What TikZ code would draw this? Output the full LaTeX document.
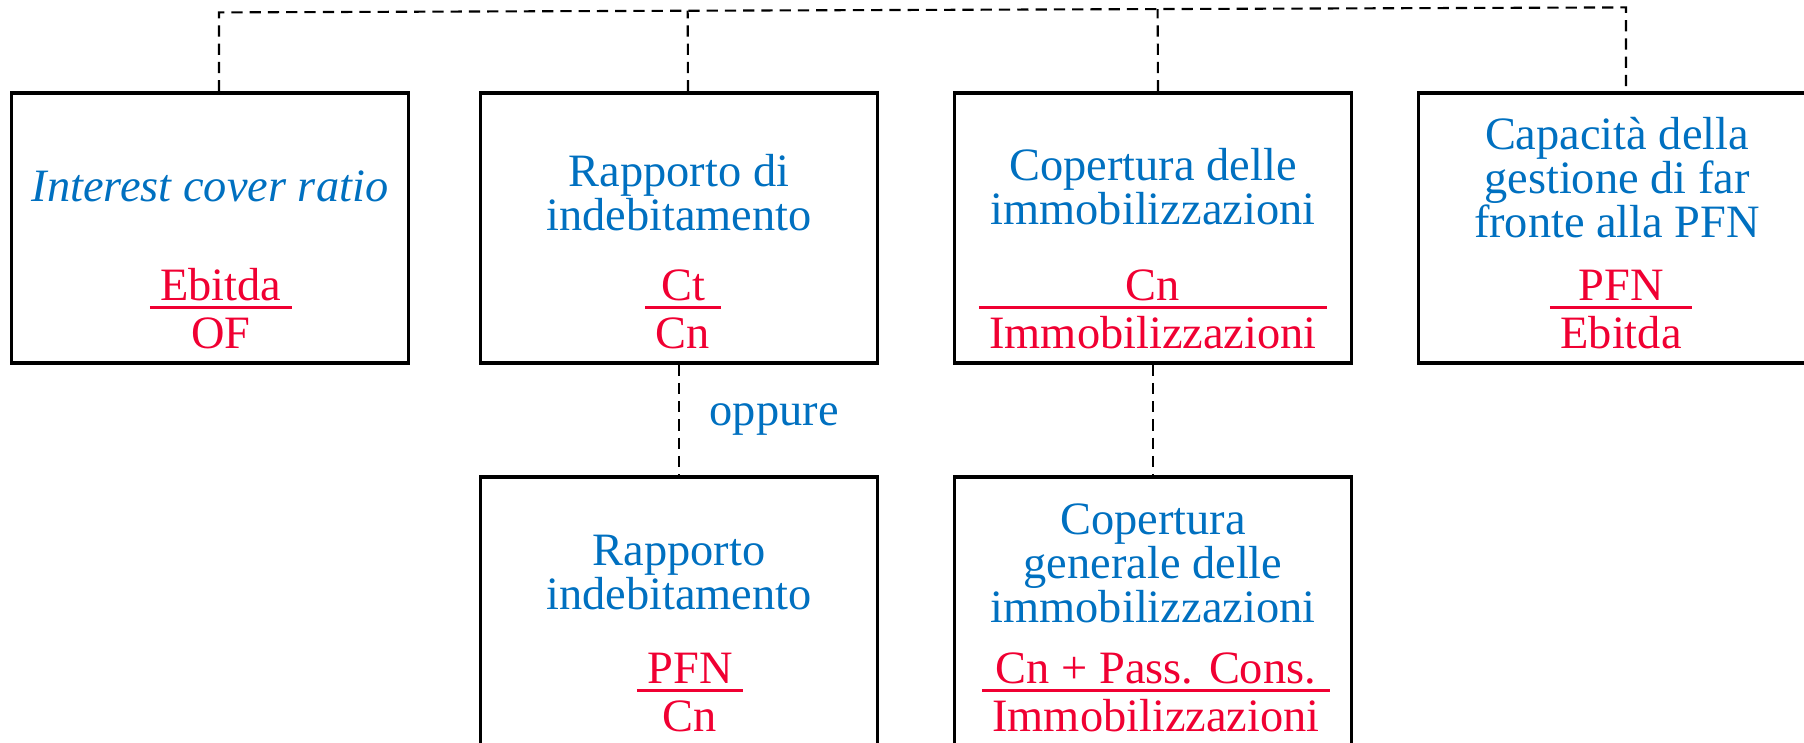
\documentclass[tikz,border=0pt]{standalone}
\usepackage{fontspec}
\setmainfont{Liberation Serif}
\usepackage{xcolor}
\usetikzlibrary{positioning,calc}
\definecolor{titleblue}{RGB}{0,112,192}
\definecolor{ratiored}{RGB}{240,0,50}
\newcommand{\ratio}[2]{%
  \renewcommand{\arraystretch}{0}\setlength{\arrayrulewidth}{0.9pt}%
  \begin{tabular}[t]{@{\hspace{3pt}}c@{\hspace{3pt}}}
    \raisebox{0pt}[9pt][1.6pt]{#1}\\ \hline
    \raisebox{0pt}[11.2pt][3pt]{#2}
  \end{tabular}}

\begin{document}
\begin{tikzpicture}[node distance=4.69cm,
    box/.style={draw,line width=0.9pt,minimum width=3.97cm,minimum height=2.70cm},
    title/.style={text=titleblue,align=center,font=\fontsize{13.2}{12.6}\selectfont},
    ratio/.style={text=ratiored,anchor=base,inner sep=0pt,font=\fontsize{13.2}{12.6}\selectfont},
    link/.style={dash pattern=on 3.2pt off 2pt,line width=0.6pt}]
    \clip (0,0) rectangle (18.04,-7.43);

    \node[box] (b1) at (2.10,-2.28) {};
    \node[box] (b2) [right of=b1] {};
    \node[box] (b3) [right of=b2,xshift=0.05cm] {};
    \node[box] (b4) [right of=b2,node distance=9.38cm] {};
    \node[box] (b5) [below of=b2,node distance=3.84cm] {};
    \node[box] (b6) [below of=b3,node distance=3.84cm] {};

    % titles
    \node[title] (h1) at ($(b1.north)+(0,-0.95)$) {\itshape Interest cover ratio};
    \node[title] (h2) at ($(b2.north)+(0,-1.01)$) {Rapporto di\\indebitamento};
    \node[title] (h3) at ($(b3.north)+(0,-0.95)$) {Copertura delle\\immobilizzazioni};
    \node[title] (h4) at ($(b4.north)+(0,-0.86)$) {Capacità della\\gestione di far\\fronte alla PFN};
    \node[title] (h5) at ($(b5.north)+(0,-0.97)$) {Rapporto\\indebitamento};
    \node[title] (h6) at ($(b6.north)+(0,-0.88)$) {Copertura\\generale delle\\immobilizzazioni};

    % ratios
    \node[ratio] (r1) at ($(b1.north)+(0.11,-2.09)$) {\ratio{Ebitda}{OF}};
    \node[ratio] (r2) at ($(b2.north)+(0.04,-2.09)$) {\ratio{Ct}{Cn}};
    \node[ratio] (r3) at ($(b3.north)+(0,-2.09)$) {\ratio{Cn}{Immobilizzazioni}};
    \node[ratio] (r4) at ($(b4.north)+(0.04,-2.09)$) {\ratio{PFN}{Ebitda}};
    \node[ratio] (r5) at ($(b5.north)+(0.11,-2.08)$) {\ratio{PFN}{Cn}};
    \node[ratio] (r6) at ($(b6.north)+(0.03,-2.08)$) {\ratio{Cn + Pass. Cons.}{Immobilizzazioni}};

    % dashed links
    \coordinate (t1) at ($(b1.north)+(0.09,0.79)$);
    \coordinate (t4) at ($(b4.north)+(0.09,0.84)$);
    \draw[link] ([xshift=0.09cm]b1.north) -- (t1) -- (t4) -- ([xshift=0.09cm]b4.north);
    \draw[link] ([xshift=0.09cm]b2.north) -- ($(t1)!([xshift=0.09cm]b2.north)!(t4)$);
    \draw[link] ([xshift=0.05cm]b3.north) -- ($(t1)!([xshift=0.05cm]b3.north)!(t4)$);
    \draw[link] (b2) -- (b5) node[midway,right=1.8mm,title] {oppure};
    \draw[link] (b3) -- (b6);
\end{tikzpicture}
\end{document}
